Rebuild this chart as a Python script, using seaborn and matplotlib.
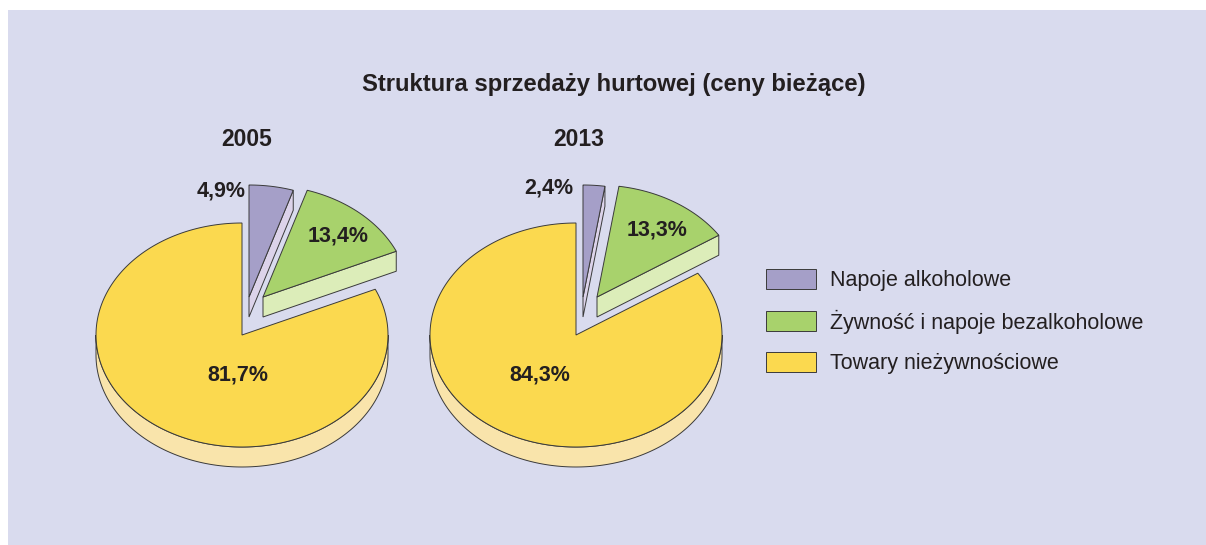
import numpy as np
import matplotlib
matplotlib.use("Agg")
import matplotlib.pyplot as plt
from matplotlib.patches import Patch, Rectangle
import seaborn as sns

# data
categories = ["Napoje alkoholowe", "Żywność i napoje bezalkoholowe", "Towary nieżywnościowe"]
years = ["2005", "2013"]
share_2005 = [4.9, 13.4, 81.7]
share_2013 = [2.4, 13.3, 84.3]
title = "Struktura sprzedaży hurtowej (ceny bieżące)"

# styling
top_colors = sns.color_palette(["#a59fc8", "#a8d26c", "#fbd94f"])
side_colors = sns.color_palette(["#dcd3ea", "#dcedb9", "#f9e4ab"])
bg_color = "#d9dbee"
edge = "#3a3a3a"
lw = 0.7
text_color = "#231f20"

sns.set_theme(style="white")
plt.rcParams["font.family"] = ["Liberation Sans", "DejaVu Sans"]

# layout (pixels)
centers = [(242, 335), (576, 335)]
rx, ry, depth = 146, 112, 20
explode = [(7, -38), (21, -38), (0, 0)]
year_pos = [(247, 139), (579, 139)]
label_pos = [[(221, 191), (338, 236), (238, 375)],
             [(549, 188), (657, 230), (540, 375)]]

fig = plt.figure(figsize=(12.06, 5.45), dpi=100)
ax = fig.add_axes([0, 0, 1, 1])
ax.set_xlim(0, 1206)
ax.set_ylim(545, 0)
ax.axis("off")
ax.add_patch(Rectangle((8, 10), 1198, 535, facecolor=bg_color, edgecolor="none", zorder=0))


def rim(cx, cy, t):
    # t in turns, 0 = 12 o'clock, going clockwise
    a = 2 * np.pi * np.asarray(t)
    return cx + rx * np.sin(a), cy - ry * np.cos(a)


def draw_slice(cx, cy, t0, t1, top, side, z):
    # outer wall, only the front half shows
    lo, hi = max(t0, 0.25), min(t1, 0.75)
    if hi > lo:
        sx, sy = rim(cx, cy, np.linspace(lo, hi, 200))
        ax.fill(np.r_[sx, sx[::-1]], np.r_[sy, sy[::-1] + depth],
                fc=side, ec=edge, lw=lw, zorder=z)
    # cut faces that face the viewer
    for tc, sign in ((t1, 1), (t0, -1)):
        if sign * np.sin(2 * np.pi * tc) > 1e-6:
            px, py = rim(cx, cy, tc)
            ax.fill([cx, px, px, cx], [cy, py, py + depth, cy + depth],
                    fc=side, ec=edge, lw=lw, zorder=z)
    xs, ys = rim(cx, cy, np.linspace(t0, t1, 300))
    ax.fill(np.r_[cx, xs], np.r_[cy, ys], fc=top, ec=edge, lw=lw, zorder=z + 0.5)


for i, shares in enumerate([share_2005, share_2013]):
    cx, cy = centers[i]
    bounds = np.r_[0, np.cumsum(shares)] / sum(shares)
    order = sorted(range(len(shares)),
                   key=lambda k: -np.cos(np.pi * (bounds[k] + bounds[k + 1])))
    for z, k in enumerate(order):
        dx, dy = explode[k]
        draw_slice(cx + dx, cy + dy, bounds[k], bounds[k + 1],
                   top_colors[k], side_colors[k], 2 + 2 * z)
    for k, v in enumerate(shares):
        lx, ly = label_pos[i][k]
        ax.text(lx, ly, f"{v:.1f}".replace(".", ",") + "%", ha="center", va="center",
                fontsize=15.5, weight="bold", color=text_color, zorder=20)
    ax.text(*year_pos[i], years[i], ha="center", va="center", fontsize=16.5,
            weight="bold", color=text_color)

ax.text(614, 85, title, ha="center", va="center", fontsize=17.2, weight="bold",
        color=text_color)

handles = [Patch(facecolor=c, edgecolor=edge, linewidth=lw) for c in top_colors]
ax.legend(handles, categories, loc="upper left", bbox_to_anchor=(766 / 1206, 1 - 269 / 545),
          frameon=False, fontsize=15.5, handlelength=2.33, handleheight=1.05,
          labelspacing=0.84, handletextpad=0.65, borderpad=0, borderaxespad=0,
          labelcolor=text_color)

fig.savefig("out.png", dpi=100, facecolor="white")
